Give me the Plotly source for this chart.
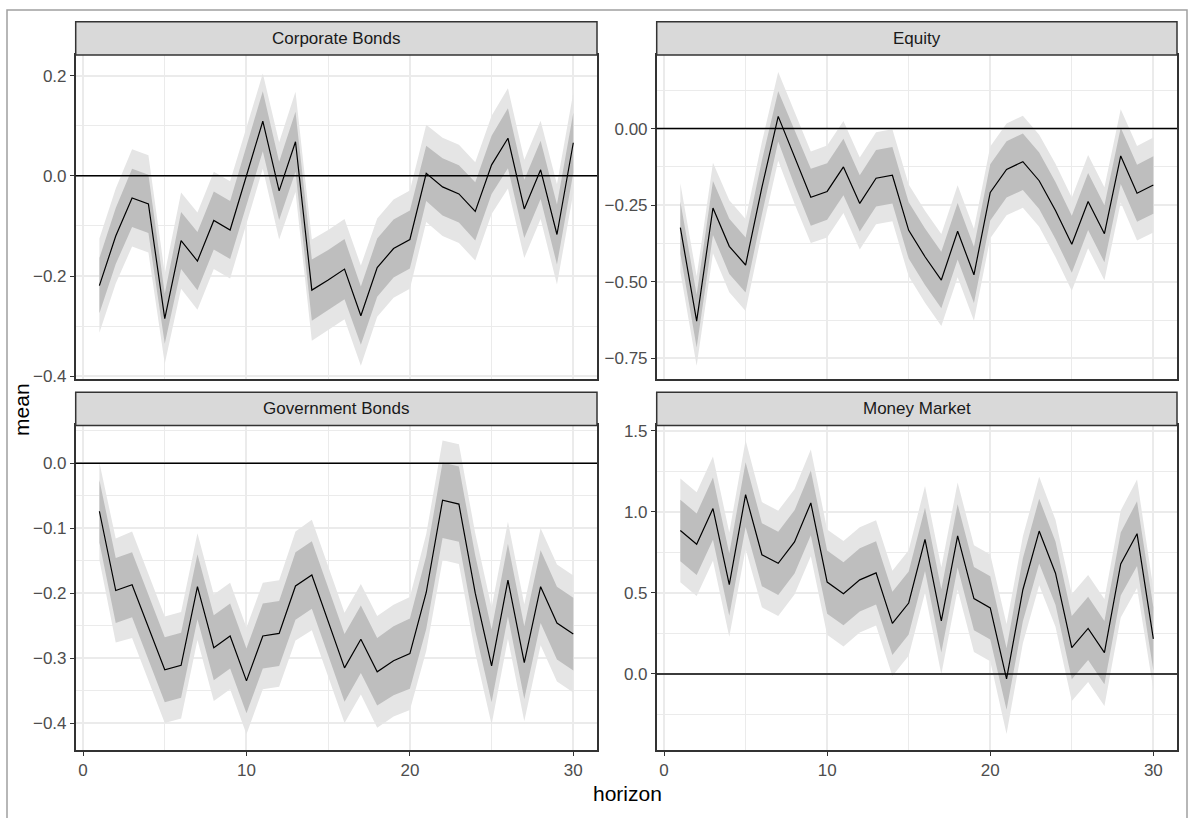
import plotly.graph_objects as go

W, H = 1190, 818

horizon = list(range(1, 31))
panels = ["Corporate Bonds", "Equity", "Government Bonds", "Money Market"]

corp_mean = [-0.219, -0.120, -0.044, -0.056, -0.285, -0.129, -0.170, -0.089, -0.108, 0.000,
             0.109, -0.030, 0.068, -0.228, -0.208, -0.186, -0.279, -0.183, -0.145, -0.127,
             0.005, -0.022, -0.036, -0.071, 0.022, 0.075, -0.066, 0.012, -0.117, 0.066]
corp_dark = [0.055, 0.056, 0.058, 0.058, 0.050, 0.057, 0.058, 0.058, 0.058, 0.060,
             0.060, 0.058, 0.060, 0.061, 0.060, 0.060, 0.058, 0.058, 0.058, 0.058,
             0.055, 0.057, 0.057, 0.058, 0.058, 0.060, 0.058, 0.058, 0.060, 0.060]
corp_light = [0.094, 0.095, 0.097, 0.097, 0.090, 0.096, 0.097, 0.097, 0.097, 0.098,
              0.095, 0.097, 0.100, 0.101, 0.100, 0.100, 0.100, 0.098, 0.098, 0.098,
              0.097, 0.098, 0.098, 0.098, 0.098, 0.100, 0.098, 0.098, 0.100, 0.100]

eq_mean = [-0.323, -0.628, -0.259, -0.384, -0.445, -0.192, 0.040, -0.095, -0.224, -0.205,
           -0.125, -0.244, -0.162, -0.152, -0.332, -0.418, -0.494, -0.335, -0.477, -0.208,
           -0.133, -0.108, -0.170, -0.267, -0.377, -0.238, -0.343, -0.089, -0.211, -0.184]
eq_dark = [0.085, 0.086, 0.088, 0.090, 0.090, 0.088, 0.082, 0.090, 0.093, 0.092,
           0.092, 0.092, 0.092, 0.092, 0.092, 0.092, 0.092, 0.092, 0.092, 0.092,
           0.092, 0.092, 0.092, 0.093, 0.093, 0.093, 0.093, 0.092, 0.093, 0.094]
eq_light = [0.145, 0.146, 0.148, 0.150, 0.150, 0.148, 0.145, 0.150, 0.149, 0.150,
            0.150, 0.150, 0.150, 0.150, 0.150, 0.150, 0.150, 0.150, 0.150, 0.150,
            0.150, 0.150, 0.150, 0.152, 0.152, 0.152, 0.152, 0.152, 0.154, 0.155]

gov_mean = [-0.074, -0.196, -0.187, -0.252, -0.318, -0.311, -0.190, -0.284, -0.266, -0.335,
            -0.266, -0.262, -0.189, -0.172, -0.243, -0.315, -0.271, -0.321, -0.304, -0.293,
            -0.199, -0.057, -0.063, -0.200, -0.312, -0.180, -0.307, -0.190, -0.246, -0.263]
gov_dark = [0.048, 0.050, 0.050, 0.050, 0.050, 0.050, 0.050, 0.050, 0.050, 0.050,
            0.050, 0.050, 0.052, 0.052, 0.052, 0.052, 0.052, 0.052, 0.053, 0.054,
            0.056, 0.058, 0.058, 0.058, 0.056, 0.056, 0.056, 0.056, 0.056, 0.056]
gov_light = [0.075, 0.080, 0.082, 0.082, 0.082, 0.082, 0.082, 0.082, 0.082, 0.082,
             0.082, 0.082, 0.084, 0.085, 0.085, 0.085, 0.085, 0.086, 0.086, 0.087,
             0.090, 0.092, 0.092, 0.092, 0.090, 0.090, 0.090, 0.090, 0.090, 0.090]

mm_mean = [0.886, 0.801, 1.021, 0.552, 1.107, 0.736, 0.683, 0.815, 1.056, 0.567,
           0.495, 0.581, 0.624, 0.312, 0.438, 0.831, 0.328, 0.852, 0.465, 0.408,
           -0.031, 0.520, 0.882, 0.622, 0.163, 0.281, 0.132, 0.679, 0.866, 0.216]
mm_dark = [0.190, 0.190, 0.192, 0.192, 0.200, 0.195, 0.195, 0.195, 0.200, 0.195,
           0.195, 0.195, 0.195, 0.195, 0.195, 0.195, 0.195, 0.195, 0.195, 0.195,
           0.190, 0.195, 0.200, 0.195, 0.195, 0.195, 0.195, 0.195, 0.200, 0.195]
mm_light = [0.320, 0.320, 0.322, 0.322, 0.336, 0.325, 0.325, 0.325, 0.330, 0.325,
            0.325, 0.325, 0.325, 0.325, 0.325, 0.330, 0.330, 0.330, 0.330, 0.330,
            0.340, 0.330, 0.335, 0.330, 0.330, 0.330, 0.330, 0.330, 0.335, 0.310]

y_ranges = [[-0.406, 0.241], [-0.818, 0.240], [-0.441, 0.058], [-0.468, 1.534]]
y_dticks = [0.2, 0.25, 0.1, 0.5]
y_formats = [".1f", ".2f", ".1f", ".1f"]
x_range = [-0.45, 31.45]

means = [corp_mean, eq_mean, gov_mean, mm_mean]
darks = [corp_dark, eq_dark, gov_dark, mm_dark]
lights = [corp_light, eq_light, gov_light, mm_light]

def px(x):
    return x / W

def py(y):
    return 1 - y / H

x_domains = [[px(75.7), px(597)], [px(656.7), px(1177)]]
plot_y = {0: [py(381), py(52.7)], 1: [py(756), py(427.7)]}
strip_y = {0: [py(52.7), py(19)], 1: [py(427.7), py(394)]}

LIGHT = "rgb(229,229,229)"
DARK = "rgb(190,190,190)"
GRID = "#EBEBEB"
BORDER = "#333333"

fig = go.Figure()
layout = dict(
    width=W, height=H, margin=dict(l=0, r=0, t=0, b=0),
    paper_bgcolor="white", plot_bgcolor="white", showlegend=False,
    font=dict(family="Liberation Sans, Arial, sans-serif"),
)
shapes = []
annotations = []

for i, name in enumerate(panels):
    row, col = divmod(i, 2)
    n = i + 1
    xa = "x" if n == 1 else f"x{n}"
    ya = "y" if n == 1 else f"y{n}"
    m = means[i]
    lo_l = [a - b for a, b in zip(m, lights[i])]
    hi_l = [a + b for a, b in zip(m, lights[i])]
    lo_d = [a - b for a, b in zip(m, darks[i])]
    hi_d = [a + b for a, b in zip(m, darks[i])]

    fig.add_trace(go.Scatter(x=horizon, y=lo_l, mode="lines", line=dict(width=0),
                             xaxis=xa, yaxis=ya, hoverinfo="skip"))
    fig.add_trace(go.Scatter(x=horizon, y=hi_l, mode="lines", line=dict(width=0),
                             fill="tonexty", fillcolor=LIGHT, xaxis=xa, yaxis=ya, hoverinfo="skip"))
    fig.add_trace(go.Scatter(x=horizon, y=lo_d, mode="lines", line=dict(width=0),
                             xaxis=xa, yaxis=ya, hoverinfo="skip"))
    fig.add_trace(go.Scatter(x=horizon, y=hi_d, mode="lines", line=dict(width=0),
                             fill="tonexty", fillcolor=DARK, xaxis=xa, yaxis=ya, hoverinfo="skip"))
    fig.add_trace(go.Scatter(x=horizon, y=m, mode="lines", line=dict(color="black", width=1.2),
                             xaxis=xa, yaxis=ya))

    bottom = row == 1
    xkey = "xaxis" if n == 1 else f"xaxis{n}"
    ykey = "yaxis" if n == 1 else f"yaxis{n}"
    layout[xkey] = dict(
        domain=x_domains[col], anchor=ya, range=x_range,
        tick0=0, dtick=10, showgrid=True, gridcolor=GRID, gridwidth=1.6,
        minor=dict(tick0=0, dtick=5, showgrid=True, gridcolor=GRID, gridwidth=0.8),
        zeroline=False, showline=True, linecolor=BORDER, linewidth=1.5, mirror=True,
        ticks="outside" if bottom else "", ticklen=4, tickcolor=BORDER, tickwidth=1.2,
        showticklabels=bottom, tickfont=dict(size=17, color="#4D4D4D"),
    )
    d = y_dticks[i]
    layout[ykey] = dict(
        domain=plot_y[row], anchor=xa, range=y_ranges[i],
        tick0=0, dtick=d, tickformat=y_formats[i],
        showgrid=True, gridcolor=GRID, gridwidth=1.6,
        minor=dict(tick0=d / 2, dtick=d, showgrid=True, gridcolor=GRID, gridwidth=0.8),
        zeroline=False, showline=True, linecolor=BORDER, linewidth=1.5, mirror=True,
        ticks="outside", ticklen=4, tickcolor=BORDER, tickwidth=1.2,
        tickfont=dict(size=17, color="#4D4D4D"),
    )
    # horizontal zero line
    shapes.append(dict(type="line", xref=f"{xa} domain", yref=ya, x0=0, x1=1, y0=0, y1=0,
                       line=dict(color="black", width=1.5), layer="above"))
    # strip
    sx = x_domains[col]
    sy = strip_y[row]
    shapes.append(dict(type="rect", xref="paper", yref="paper", x0=sx[0], x1=sx[1],
                       y0=sy[0], y1=sy[1], fillcolor="#D9D9D9",
                       line=dict(color=BORDER, width=1.5), layer="above"))
    annotations.append(dict(text=name, xref="paper", yref="paper",
                            x=(sx[0] + sx[1]) / 2, y=(sy[0] + sy[1]) / 2,
                            showarrow=False, xanchor="center", yanchor="middle",
                            font=dict(size=17, color="#1A1A1A")))

annotations.append(dict(text="horizon", xref="paper", yref="paper", x=px(627), y=py(800),
                        showarrow=False, xanchor="center", yanchor="middle",
                        font=dict(size=21, color="black")))
annotations.append(dict(text="mean", xref="paper", yref="paper", x=px(22), y=py(412),
                        showarrow=False, xanchor="center", yanchor="middle", textangle=-90,
                        font=dict(size=21, color="black")))
shapes.append(dict(type="rect", xref="paper", yref="paper", x0=px(7), x1=px(1187),
                   y0=-0.05, y1=py(7), line=dict(color="#A0A0A0", width=1.5),
                   fillcolor="rgba(0,0,0,0)", layer="below"))

layout["shapes"] = shapes
layout["annotations"] = annotations
fig.update_layout(**layout)
fig.write_html("out.html")
